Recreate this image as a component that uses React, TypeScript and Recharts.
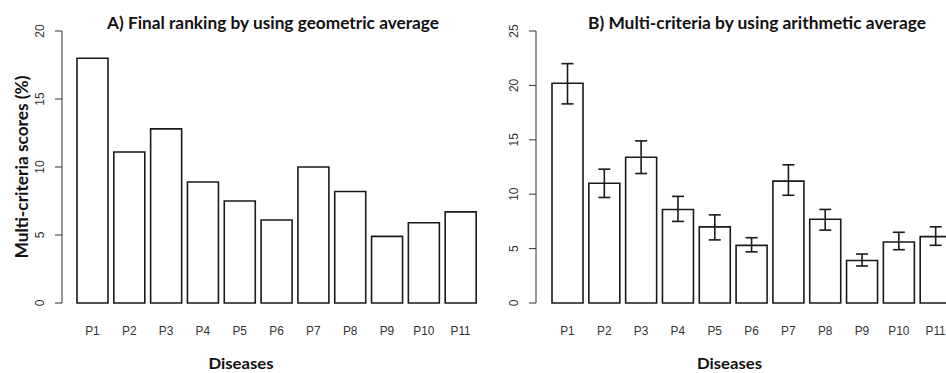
import React from "react";
import { BarChart, Bar, XAxis, YAxis, ErrorBar } from "recharts";

const diseases = ["P1", "P2", "P3", "P4", "P5", "P6", "P7", "P8", "P9", "P10", "P11"];
const geometricScores = [18.0, 11.1, 12.8, 8.9, 7.5, 6.1, 10.0, 8.2, 4.9, 5.9, 6.7];
const arithmeticScores = [20.2, 11.0, 13.4, 8.6, 7.0, 5.3, 11.2, 7.7, 3.9, 5.6, 6.1];
const arithmeticLower = [18.3, 9.7, 11.9, 7.5, 5.8, 4.7, 9.9, 6.7, 3.4, 4.9, 5.3];
const arithmeticUpper = [22.0, 12.3, 14.9, 9.8, 8.1, 6.0, 12.7, 8.6, 4.5, 6.5, 7.0];
const ticksA = [0, 5, 10, 15, 20];
const ticksB = [0, 5, 10, 15, 20, 25];

const dataA = diseases.map((d, i) => ({ name: d, score: geometricScores[i] }));
const dataB = diseases.map((d, i) => ({
  name: d,
  score: arithmeticScores[i],
  err: [arithmeticScores[i] - arithmeticLower[i], arithmeticUpper[i] - arithmeticScores[i]],
}));

const INK = "#1a1a1a";
const AXIS = "#333";
const H = 373;

const YTick = (props: any) => {
  const { x, y, payload } = props;
  return (
    <text
      transform={`translate(${x - 13},${y}) rotate(-90)`}
      textAnchor="middle"
      dominantBaseline="central"
      fontFamily="Liberation Sans, Arial, sans-serif"
      fontSize={12}
      fill={AXIS}
    >
      {payload.value}
    </text>
  );
};

const XTick = (props: any) => {
  const { x, y, payload } = props;
  return (
    <text
      transform={`translate(${x},${y + 19}) scale(0.88,1)`}
      textAnchor="middle"
      dominantBaseline="central"
      fontFamily="Liberation Sans, Arial, sans-serif"
      fontSize={13.5}
      fill={AXIS}
    >
      {payload.value}
    </text>
  );
};

const bold = { fontFamily: "Lato, sans-serif", fontWeight: 700, fill: "#111" } as const;

export default function App() {
  return (
    <div style={{ position: "fixed", left: 0, top: 0, width: 946, height: H, overflow: "hidden", background: "#fff" }}>
      <div style={{ position: "absolute", left: 0, top: 0 }}>
        <BarChart width={480} height={H} data={dataA} margin={{ top: 31, right: 1, bottom: 0, left: 0 }}>
          <XAxis dataKey="name" axisLine={false} tickLine={false} height={70} padding={{ left: 12, right: 0 }} tick={<XTick />} interval={0} />
          <YAxis
            domain={[0, 20]} ticks={ticksA} width={62} tickSize={7}
            axisLine={{ stroke: AXIS }} tickLine={{ stroke: AXIS }} tick={<YTick />}
          />
          <Bar dataKey="score" fill="#fff" stroke={INK} strokeWidth={1.6} barSize={31} isAnimationActive={false} />
        </BarChart>
      </div>
      <div style={{ position: "absolute", left: 480, top: 0 }}>
        <BarChart width={474} height={H} data={dataB} margin={{ top: 31, right: 0, bottom: 0, left: 0 }}>
          <XAxis dataKey="name" axisLine={false} tickLine={false} height={70} padding={{ left: 13, right: 0 }} tick={<XTick />} interval={0} />
          <YAxis
            domain={[0, 25]} ticks={ticksB} width={56} tickSize={7}
            axisLine={{ stroke: AXIS }} tickLine={{ stroke: AXIS }} tick={<YTick />}
          />
          <Bar dataKey="score" fill="#fff" stroke={INK} strokeWidth={1.6} barSize={31} isAnimationActive={false}>
            <ErrorBar dataKey="err" width={6} stroke={INK} strokeWidth={1.6} direction="y" isAnimationActive={false} />
          </Bar>
        </BarChart>
      </div>
      <svg width={946} height={H} style={{ position: "absolute", left: 0, top: 0, pointerEvents: "none" }}>
        <text x={273} y={29} textAnchor="middle" fontSize={17.5} textLength={332} lengthAdjust="spacingAndGlyphs" {...bold}>
          A) Final ranking by using geometric average
        </text>
        <text x={757} y={29} textAnchor="middle" fontSize={17.5} textLength={338} lengthAdjust="spacingAndGlyphs" {...bold}>
          B) Multi-criteria by using arithmetic average
        </text>
        <text transform="translate(27.5,167) rotate(-90)" textAnchor="middle" fontSize={16.5} textLength={183} lengthAdjust="spacingAndGlyphs" {...bold}>
          Multi-criteria scores (%)
        </text>
        <text x={241} y={369} textAnchor="middle" fontSize={16} textLength={65} lengthAdjust="spacingAndGlyphs" {...bold}>
          Diseases
        </text>
        <text x={729.5} y={369} textAnchor="middle" fontSize={16} textLength={65} lengthAdjust="spacingAndGlyphs" {...bold}>
          Diseases
        </text>
      </svg>
    </div>
  );
}
